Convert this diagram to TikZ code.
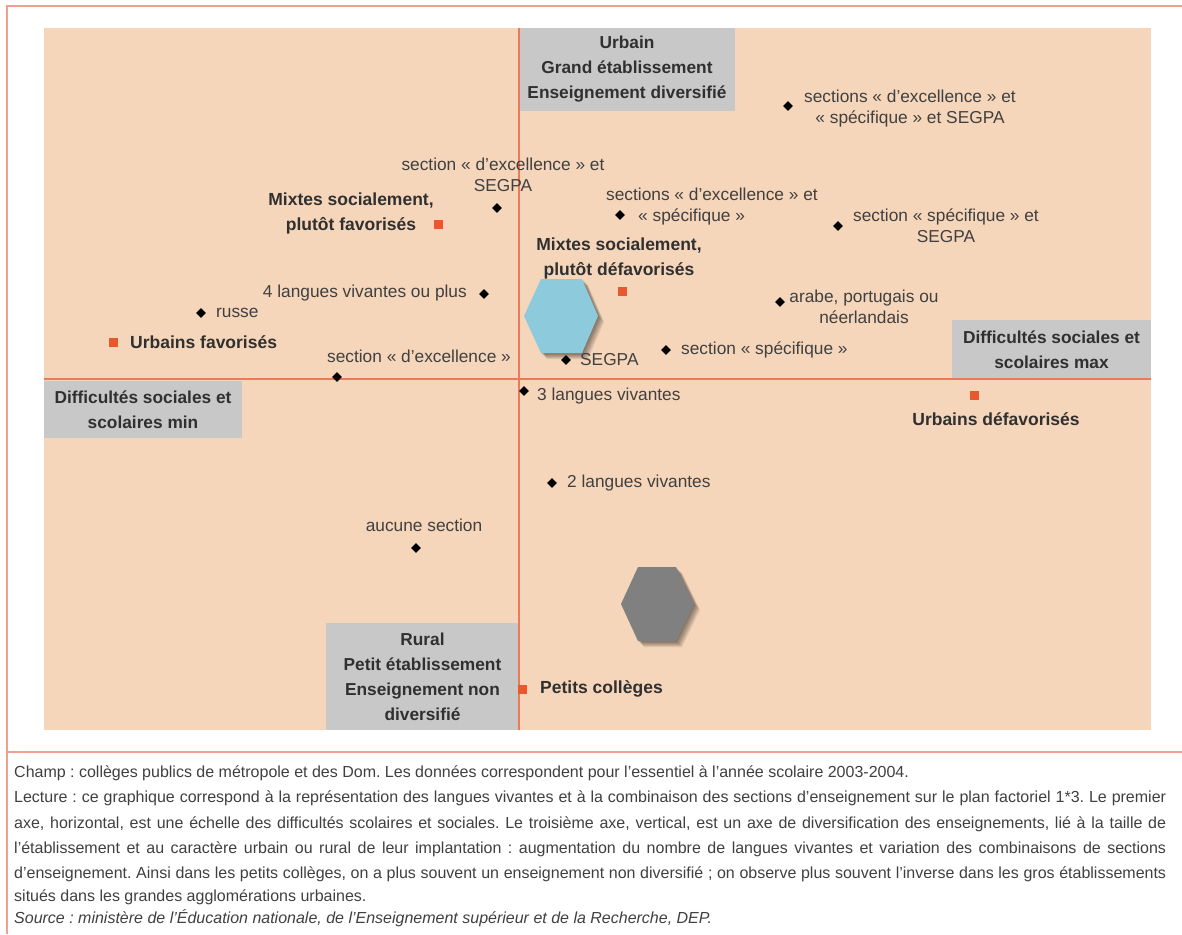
\documentclass[tikz,border=0pt]{standalone}
\usepackage{fontspec}
\setmainfont{Liberation Sans}
\usetikzlibrary{shapes.geometric}
\definecolor{peach}{HTML}{F6D6BA}
\definecolor{boxc}{HTML}{C8C8C8}
\definecolor{axisc}{HTML}{E97A5A}
\definecolor{framec}{HTML}{F0A090}
\definecolor{sqc}{HTML}{E8582E}
\definecolor{txt}{HTML}{404040}
\definecolor{btxt}{HTML}{303030}
\definecolor{hexblue}{HTML}{8DCADC}
\definecolor{hexgrey}{HTML}{808080}
\begin{document}
\frenchspacing
\begin{tikzpicture}[x=1pt,y=-1pt,
  lbl/.style={inner sep=0pt, text=txt, font=\fontsize{17.3}{21}\selectfont},
  blbl/.style={inner sep=0pt, text=btxt, font=\bfseries\fontsize{17.5}{25}\selectfont, align=center},
  dia/.style={diamond, fill=black, inner sep=0pt, minimum size=10pt},
  sq/.style={rectangle, fill=sqc, inner sep=0pt, minimum size=9pt},
  gbox/.style={fill=boxc, inner sep=0pt, text=btxt, font=\bfseries\fontsize{17.3}{25}\selectfont, align=center},
  captxt/.style={inner sep=0pt, text=txt, font=\fontsize{16}{18}\selectfont, anchor=base west},
  axisline/.style={draw=axisc, line width=1.3pt},
  frameline/.style={draw=framec, line width=2pt},
  hexshadow/.style={fill=black, opacity=0.09},
]
\useasboundingbox (0,0) rectangle (1182,934);
\fill[white] (0,0) rectangle (1182,934);
% frame
\draw[frameline] (1182,6) -- (7,6) -- (7,934);
\draw[frameline] (7,752) -- (1182,752);
% chart background
\fill[peach] (44,28) rectangle (1151,730);
% grey boxes
\node[gbox, minimum width=216pt, minimum height=83pt] (g1) at (627,69.5) {Urbain\\Grand établissement\\Enseignement diversifié};
\node[gbox, minimum width=198pt, minimum height=57pt] (g2) at (143,409.5) {Difficultés sociales et\\scolaires min};
\node[gbox, minimum width=199pt, minimum height=59pt] (g3) at (1051.5,349.5) {Difficultés sociales et\\scolaires max};
\node[gbox, minimum width=193pt, minimum height=107pt] (g4) at (422.5,676.5) {Rural\\Petit établissement\\Enseignement non\\diversifié};
% axes
\coordinate (vtop) at (519,28);
\coordinate (vbot) at (519,730);
\coordinate (hleft) at (44,379);
\coordinate (hright) at (1151,379);
\draw[axisline] (vtop) -- (vbot);
\draw[axisline] (hleft) -- (hright);
% hexagons with shadows
\foreach \s in {1,2,3,4,5,6}{
  \fill[hexshadow] (524+\s,316+\s) -- (541+\s,279+\s) -- (582+\s,279+\s) -- (598+\s,316+\s) -- (582+\s,353+\s) -- (541+\s,353+\s) -- cycle;
  \fill[hexshadow] (621+\s,604+\s) -- (638+\s,567+\s) -- (676+\s,567+\s) -- (694+\s,604+\s) -- (676+\s,641+\s) -- (638+\s,641+\s) -- cycle;
}
\fill[hexblue] (524,316) -- (541,279) -- (582,279) -- (598,316) -- (582,353) -- (541,353) -- cycle;
\fill[hexgrey] (621,604) -- (638,567) -- (676,567) -- (694,604) -- (676,641) -- (638,641) -- cycle;
% diamond points
\node[dia] (p1) at (788,106) {};
\node[dia] (p2) at (497,208) {};
\node[dia] (p3) at (620,215) {};
\node[dia] (p4) at (838,226) {};
\node[dia] (p5) at (484,294) {};
\node[dia] (p6) at (201,313) {};
\node[dia] (p7) at (337,377) {};
\node[dia] (p8) at (566,360) {};
\node[dia] (p9) at (666,350) {};
\node[dia] (p10) at (780,302) {};
\node[dia] (p11) at (524,391) {};
\node[dia] (p12) at (552,483) {};
\node[dia] (p13) at (416,548) {};
% point labels
\node[lbl, align=center] (l1) at (910,108.5) {sections « d'excellence » et\\« spécifique » et SEGPA};
\node[lbl, align=center] (l2) at (503,175) {section « d'excellence » et\\SEGPA};
\node[lbl, align=left, anchor=west] (l3) at (606,206.5) {sections « d'excellence » et\\\hspace*{32pt}« spécifique »};
\node[lbl, align=center] (l4) at (946,225.5) {section « spécifique » et\\SEGPA};
\node[lbl, anchor=east] (l5) at (467,293) {4 langues vivantes ou plus};
\node[lbl, anchor=west] (l6) at (216,313) {russe};
\node[lbl] (l7) at (419,356) {section « d'excellence »};
\node[lbl, anchor=west] (l8) at (580,360) {SEGPA};
\node[lbl, anchor=west] (l9) at (681,350) {section « spécifique »};
\node[lbl, align=center] (l10) at (864,306.5) {arabe, portugais ou\\néerlandais};
\node[lbl, anchor=west] (l11) at (537,396) {3 langues vivantes};
\node[lbl, anchor=west] (l12) at (567,483) {2 langues vivantes};
\node[lbl] (l13) at (424,525) {aucune section};
% orange squares
\node[sq] (s1) at (438,224) {};
\node[sq] (s2) at (622,291) {};
\node[sq] (s3) at (113,342) {};
\node[sq] (s4) at (974,395) {};
\node[sq] (s5) at (522,689) {};
% bold labels
\node[blbl] (b1) at (351,213.5) {Mixtes socialement,\\plutôt favorisés};
\node[blbl] (b2) at (619,258.5) {Mixtes socialement,\\plutôt défavorisés};
\node[blbl, anchor=west] (b3) at (130,342) {Urbains favorisés};
\node[blbl] (b4) at (996,419) {Urbains défavorisés};
\node[blbl, anchor=west] (b5) at (540,689) {Petits collèges};
% caption
\node[captxt] (c1) at (14,777) {Champ : collèges publics de métropole et des Dom. Les données correspondent pour l'essentiel à l'année scolaire 2003-2004.};
\node[captxt] (c2) at (14,802) {\makebox[1152pt][s]{Lecture : ce graphique correspond à la représentation des langues vivantes et à la combinaison des sections d'enseignement sur le plan factoriel 1*3. Le premier}};
\node[captxt] (c3) at (14,828) {\makebox[1152pt][s]{axe, horizontal, est une échelle des difficultés scolaires et sociales. Le troisième axe, vertical, est un axe de diversification des enseignements, lié à la taille de}};
\node[captxt] (c4) at (14,853) {\makebox[1152pt][s]{l'établissement et au caractère urbain ou rural de leur implantation : augmentation du nombre de langues vivantes et variation des combinaisons de sections}};
\node[captxt] (c5) at (14,878) {\makebox[1152pt][s]{d'enseignement. Ainsi dans les petits collèges, on a plus souvent un enseignement non diversifié ; on observe plus souvent l'inverse dans les gros établissements}};
\node[captxt] (c6) at (14,901) {situés dans les grandes agglomérations urbaines.};
\node[captxt, font=\itshape\fontsize{16}{18}\selectfont] (c7) at (14,923) {Source : ministère de l'Éducation nationale, de l'Enseignement supérieur et de la Recherche, DEP.};
\end{tikzpicture}
\end{document}
